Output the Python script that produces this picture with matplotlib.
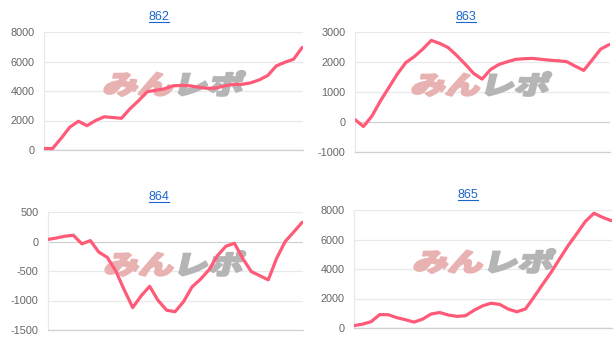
import matplotlib
matplotlib.use("Agg")
import matplotlib.pyplot as plt
from matplotlib.textpath import TextPath
from matplotlib.patches import PathPatch
from matplotlib.font_manager import FontProperties
from matplotlib.transforms import Affine2D, IdentityTransform
from matplotlib.lines import Line2D
import numpy as np

titles = ["862", "863", "864", "865"]

vals_862 = [100, 100, 800, 1550, 1950, 1650, 2000, 2250, 2200, 2150, 2800, 3350, 3950,
            4050, 4150, 4350, 4380, 4350, 4250, 4180, 4200, 4350, 4450, 4450, 4550,
            4750, 5050, 5700, 5950, 6150, 6950]
vals_863 = [80, -150, 200, 700, 1150, 1600, 1980, 2180, 2430, 2720, 2620, 2480, 2220,
            1930, 1620, 1430, 1750, 1920, 2010, 2090, 2110, 2120, 2090, 2060, 2040,
            2010, 1860, 1720, 2070, 2430, 2580]
vals_864 = [35, 60, 90, 105, -40, 15, -180, -270, -500, -820, -1120, -920, -760,
            -1000, -1165, -1190, -1020, -770, -640, -480, -240, -80, -30, -290, -510,
            -580, -650, -280, 0, 160, 325]
vals_865 = [160, 260, 430, 910, 900, 700, 560, 400, 600, 950, 1050, 880, 790, 830,
            1200, 1500, 1680, 1600, 1280, 1100, 1290, 2100, 2950, 3780, 4700, 5600,
            6400, 7230, 7780, 7500, 7280]
series = [vals_862, vals_863, vals_864, vals_865]

yticks_list = [[0, 2000, 4000, 6000, 8000],
               [-1000, 0, 1000, 2000, 3000],
               [-1500, -1000, -500, 0, 500],
               [0, 2000, 4000, 6000, 8000]]

W, H = 614, 355
fig = plt.figure(figsize=(W / 100, H / 100), dpi=100)
fig.patch.set_facecolor("white")

# axes boxes in pixels (left, top, right, bottom) measured top-down
boxes = [(44, 32, 303, 150), (355, 32, 610, 152), (48, 212, 303, 330), (354, 210, 612, 328)]
title_pos = [(159, 20.5), (466, 20.5), (159, 200.5), (468, 198.5)]
wm_boxes = [(102, 70, 247, 97), (410, 71, 553, 97), (103, 250, 247, 277), (412, 248, 557, 274)]

line_color = "#ff5a78"
grid_color = "#e9e9e9"
zero_color = "#d0d0d0"

cjk = FontProperties(family="Noto Sans CJK JP", weight="heavy")

titles_txt = []
for k in range(4):
    l, t, r, b = boxes[k]
    ax = fig.add_axes([l / W, 1 - b / H, (r - l) / W, (b - t) / H])
    ax.set_facecolor("none")
    v = series[k]
    x = np.arange(len(v))
    ax.plot(x, v, color=line_color, lw=2.3, solid_capstyle="round", solid_joinstyle="round", zorder=4)
    yt = yticks_list[k]
    ax.set_ylim(yt[0], yt[-1])
    ax.set_xlim(0, len(v) - 1 + 0.1)
    ax.set_yticks(yt)
    ax.set_yticklabels([str(y) for y in yt], fontsize=7.8, color="#666666", family="Liberation Sans")
    ax.tick_params(axis="y", length=0, pad=7)
    ax.set_xticks([])
    for y in yt:
        ax.axhline(y, color=(zero_color if y == 0 else grid_color), lw=0.9, zorder=1)
    for s in ["top", "right"]:
        ax.spines[s].set_visible(False)
    ax.spines["left"].set_color(grid_color)
    ax.spines["left"].set_linewidth(0.9)
    ax.spines["bottom"].set_color(zero_color)
    ax.spines["bottom"].set_linewidth(0.9)

    # watermark
    p1 = TextPath((0, 0), "みん", size=100, prop=cjk)
    p2 = TextPath((200, 0), "レポ", size=100, prop=cjk)
    e1 = p1.get_extents()
    e2 = p2.get_extents()
    bx0 = min(e1.x0, e2.x0); bx1 = max(e1.x1, e2.x1)
    by0 = min(e1.y0, e2.y0); by1 = max(e1.y1, e2.y1)
    wl, wt, wr, wb = wm_boxes[k]
    hh = wb - wt - 2
    skew = 13
    sk = hh * np.tan(np.radians(skew))
    sx = (wr - wl - 2 - sk) / (bx1 - bx0)
    sy = hh / (by1 - by0)
    tr = (Affine2D().translate(-bx0, -by0).scale(sx, sy).skew_deg(skew, 0)
          .translate(wl + 1, H - wb + 1))
    for p, c in [(p1, "#e9b2b2"), (p2, "#b5b5b5")]:
        patch = PathPatch(tr.transform_path(p), facecolor=c, edgecolor=c, lw=1.6,
                          joinstyle="round",
                          transform=IdentityTransform(), zorder=2, clip_on=False)
        ax.add_artist(patch)

    tx, ty = title_pos[k]
    txt = fig.text(tx / W, 1 - ty / H, titles[k], ha="center", va="baseline",
                   fontsize=9, color="#1a66cc", family="Liberation Sans")
    titles_txt.append(txt)

fig.canvas.draw()
rend = fig.canvas.get_renderer()
for txt in titles_txt:
    bb = txt.get_window_extent(rend)
    _, yb = fig.transFigure.transform(txt.get_position())
    yl = yb - 1.5
    fig.add_artist(Line2D([bb.x0 / W, bb.x1 / W], [yl / H, yl / H], color="#1a66cc",
                          lw=0.8, transform=fig.transFigure))

fig.savefig("out.png", dpi=100, facecolor="white")
